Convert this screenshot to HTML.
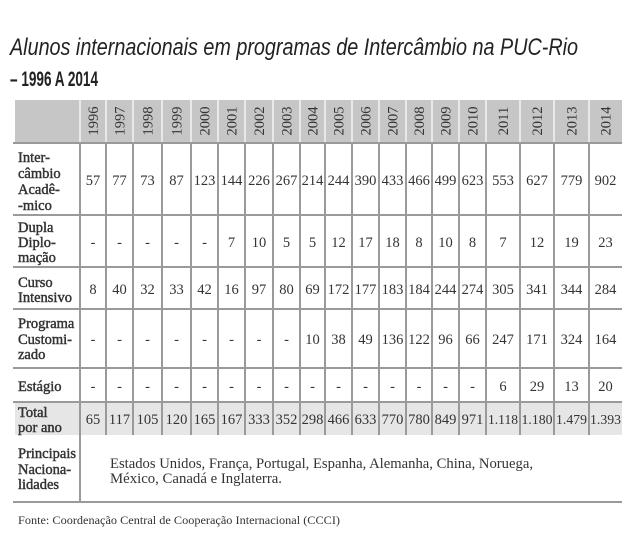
<!DOCTYPE html>
<html><head><meta charset="utf-8"><style>
body{margin:0;background:#fff}
svg{display:block}
.s{font-family:"Liberation Serif",serif;font-size:14.5px;fill:#333}
.l{font-family:"Liberation Serif",serif;font-size:14.5px;fill:#333;stroke:#333;stroke-width:0.45}
.n text{text-anchor:middle}
.t{font-size:13.5px}
</style></head><body>
<svg width="640" height="547" viewBox="0 0 640 547" xmlns="http://www.w3.org/2000/svg">
<text x="10" y="55" font-family="'Liberation Sans Narrow','Liberation Sans',sans-serif" font-style="italic" font-size="24" fill="#222" textLength="568" lengthAdjust="spacingAndGlyphs">Alunos internacionais em programas de Intercâmbio na PUC-Rio</text>
<text x="10" y="86" font-family="'Liberation Sans Narrow','Liberation Sans',sans-serif" font-weight="bold" font-size="21" fill="#222" textLength="88" lengthAdjust="spacingAndGlyphs">– 1996 A 2014</text>
<rect x="15" y="100" width="607" height="43" fill="#c6c6c6"/>
<rect x="15" y="402" width="607" height="33" fill="#e6e6e6"/>
<g stroke="#e8e8e8" stroke-width="2">
<path d="M80 100V143M106 100V143M133 100V143M162 100V143M191 100V143M218 100V143M245 100V143M273 100V143M300 100V143M325 100V143M352 100V143M379 100V143M406 100V143M432 100V143M459 100V143M486 100V143M520 100V143M554 100V143M589 100V143"/>
</g>
<g stroke="#9a9a9a" stroke-width="2" fill="none">
<path d="M13 143H622M13 215H622M13 267H622M13 309H622M13 368H622M13 402H622M13 502H622"/>
<path d="M80 143V502"/>
<path d="M106 143V435M133 143V435M162 143V435M191 143V435M218 143V435M245 143V435M273 143V435M300 143V435M325 143V435M352 143V435M379 143V435M406 143V435M432 143V435M459 143V435M486 143V435M520 143V435M554 143V435M589 143V435"/>
</g>
<g class="s" text-anchor="middle">
<text transform="translate(98,121) rotate(-90)">1996</text>
<text transform="translate(124.5,121) rotate(-90)">1997</text>
<text transform="translate(152.5,121) rotate(-90)">1998</text>
<text transform="translate(181.5,121) rotate(-90)">1999</text>
<text transform="translate(209.5,121) rotate(-90)">2000</text>
<text transform="translate(236.5,121) rotate(-90)">2001</text>
<text transform="translate(264,121) rotate(-90)">2002</text>
<text transform="translate(291.5,121) rotate(-90)">2003</text>
<text transform="translate(317.5,121) rotate(-90)">2004</text>
<text transform="translate(343.5,121) rotate(-90)">2005</text>
<text transform="translate(370.5,121) rotate(-90)">2006</text>
<text transform="translate(397.5,121) rotate(-90)">2007</text>
<text transform="translate(424,121) rotate(-90)">2008</text>
<text transform="translate(450.5,121) rotate(-90)">2009</text>
<text transform="translate(477.5,121) rotate(-90)">2010</text>
<text transform="translate(508,121) rotate(-90)">2011</text>
<text transform="translate(542,121) rotate(-90)">2012</text>
<text transform="translate(576.5,121) rotate(-90)">2013</text>
<text transform="translate(610.5,121) rotate(-90)">2014</text>
</g>
<g class="l">
<text x="18" y="162">Inter-</text><text x="18" y="178">câmbio</text><text x="18" y="194">Acadê-</text><text x="18" y="210">-mico</text>
<text x="18" y="232">Dupla</text><text x="18" y="247">Diplo-</text><text x="18" y="262">mação</text>
<text x="18" y="287">Curso</text><text x="18" y="302">Intensivo</text>
<text x="18" y="328">Programa</text><text x="18" y="344">Customi-</text><text x="18" y="359">zado</text>
<text x="18" y="391">Estágio</text>
<text x="18" y="417">Total</text><text x="18" y="432">por ano</text>
<text x="18" y="458">Principais</text><text x="18" y="474">Naciona-</text><text x="18" y="489">lidades</text>
</g>
<g class="s n">
<g transform="translate(0,185)"><text x="93">57</text><text x="119.5">77</text><text x="147.5">73</text><text x="176.5">87</text><text x="204.5">123</text><text x="231.5">144</text><text x="259">226</text><text x="286.5">267</text><text x="312.5">214</text><text x="338.5">244</text><text x="365.5">390</text><text x="392.5">433</text><text x="419">466</text><text x="445.5">499</text><text x="472.5">623</text><text x="503">553</text><text x="537">627</text><text x="571.5">779</text><text x="605.5">902</text></g>
<g transform="translate(0,247)"><text x="93">-</text><text x="119.5">-</text><text x="147.5">-</text><text x="176.5">-</text><text x="204.5">-</text><text x="231.5">7</text><text x="259">10</text><text x="286.5">5</text><text x="312.5">5</text><text x="338.5">12</text><text x="365.5">17</text><text x="392.5">18</text><text x="419">8</text><text x="445.5">10</text><text x="472.5">8</text><text x="503">7</text><text x="537">12</text><text x="571.5">19</text><text x="605.5">23</text></g>
<g transform="translate(0,294)"><text x="93">8</text><text x="119.5">40</text><text x="147.5">32</text><text x="176.5">33</text><text x="204.5">42</text><text x="231.5">16</text><text x="259">97</text><text x="286.5">80</text><text x="312.5">69</text><text x="338.5">172</text><text x="365.5">177</text><text x="392.5">183</text><text x="419">184</text><text x="445.5">244</text><text x="472.5">274</text><text x="503">305</text><text x="537">341</text><text x="571.5">344</text><text x="605.5">284</text></g>
<g transform="translate(0,344)"><text x="93">-</text><text x="119.5">-</text><text x="147.5">-</text><text x="176.5">-</text><text x="204.5">-</text><text x="231.5">-</text><text x="259">-</text><text x="286.5">-</text><text x="312.5">10</text><text x="338.5">38</text><text x="365.5">49</text><text x="392.5">136</text><text x="419">122</text><text x="445.5">96</text><text x="472.5">66</text><text x="503">247</text><text x="537">171</text><text x="571.5">324</text><text x="605.5">164</text></g>
<g transform="translate(0,391)"><text x="93">-</text><text x="119.5">-</text><text x="147.5">-</text><text x="176.5">-</text><text x="204.5">-</text><text x="231.5">-</text><text x="259">-</text><text x="286.5">-</text><text x="312.5">-</text><text x="338.5">-</text><text x="365.5">-</text><text x="392.5">-</text><text x="419">-</text><text x="445.5">-</text><text x="472.5">-</text><text x="503">6</text><text x="537">29</text><text x="571.5">13</text><text x="605.5">20</text></g>
<g transform="translate(0,424)"><text x="93">65</text><text x="119.5">117</text><text x="147.5">105</text><text x="176.5">120</text><text x="204.5">165</text><text x="231.5">167</text><text x="259">333</text><text x="286.5">352</text><text x="312.5">298</text><text x="338.5">466</text><text x="365.5">633</text><text x="392.5">770</text><text x="419">780</text><text x="445.5">849</text><text x="472.5">971</text><text class="t" x="503" textLength="30" lengthAdjust="spacingAndGlyphs">1.118</text><text class="t" x="537" textLength="31" lengthAdjust="spacingAndGlyphs">1.180</text><text class="t" x="571.5" textLength="31" lengthAdjust="spacingAndGlyphs">1.479</text><text class="t" x="605.5" textLength="31" lengthAdjust="spacingAndGlyphs">1.393</text></g>
</g>
<g class="s">
<text x="110" y="468" textLength="423" lengthAdjust="spacingAndGlyphs">Estados Unidos, França, Portugal, Espanha, Alemanha, China, Noruega,</text>
<text x="110" y="483" textLength="172" lengthAdjust="spacingAndGlyphs">México, Canadá e Inglaterra.</text>
<text x="18" y="524" font-size="12" textLength="322" lengthAdjust="spacingAndGlyphs">Fonte: Coordenação Central de Cooperação Internacional (CCCI)</text>
</g>
</svg>
</body></html>
